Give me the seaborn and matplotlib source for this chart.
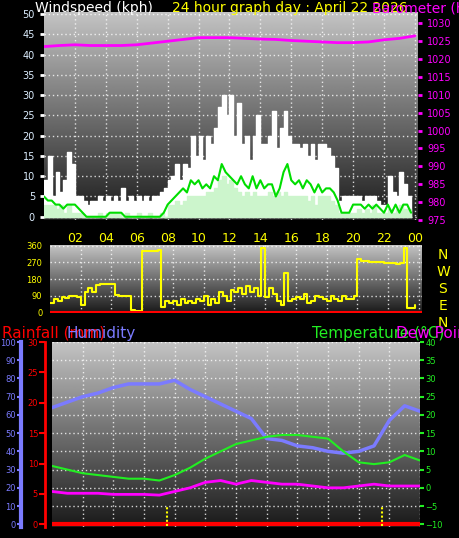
import numpy as np
import pandas as pd
import seaborn as sns
import matplotlib.pyplot as plt

# quarter-hour wind data (kph)
wind_gust = [9, 15, 5, 11, 6, 9, 16, 13, 5, 5, 4, 3, 4, 4, 5, 4,
             5, 4, 5, 4, 7, 4, 5, 4, 5, 4, 5, 4, 5, 5, 6, 7,
             9, 10, 13, 9, 13, 12, 20, 15, 20, 14, 20, 18, 22, 27, 30, 25,
             30, 20, 28, 18, 20, 14, 20, 25, 18, 18, 20, 26, 17, 22, 26, 20,
             18, 18, 17, 18, 15, 18, 14, 18, 18, 17, 15, 12, 4, 5, 5, 5,
             5, 5, 4, 5, 5, 5, 4, 3, 3, 10, 6, 5, 11, 8, 5, 5]
wind_speed = [3, 3, 3, 2, 3, 1, 3, 1, 1, 1, 0, 0, 0, 0, 1, 0,
              1, 1, 1, 1, 0, 1, 0, 0, 1, 0, 0, 1, 0, 0, 1, 0,
              3, 3, 4, 3, 4, 5, 5, 5, 5, 5, 6, 6, 7, 9, 10, 8,
              9, 7, 6, 5, 6, 5, 6, 5, 5, 5, 6, 5, 6, 5, 6, 5,
              5, 5, 5, 5, 4, 5, 3, 5, 5, 5, 4, 3, 1, 1, 1, 1,
              1, 2, 1, 2, 1, 3, 1, 1, 1, 2, 1, 2, 3, 2, 2, 1]
wind_avg = [5, 4, 4, 3, 3, 2, 3, 3, 3, 2, 1, 0, 0, 0, 0, 0,
            0, 1, 1, 1, 1, 0, 0, 0, 0, 0, 0, 0, 0, 0, 0, 1,
            3, 4, 5, 6, 7, 6, 9, 8, 9, 7, 8, 7, 10, 9, 13, 11,
            10, 9, 8, 10, 8, 7, 10, 7, 9, 7, 8, 8, 5, 7, 11, 13,
            9, 8, 9, 7, 9, 8, 6, 8, 6, 7, 7, 6, 4, 1, 1, 1,
            3, 3, 3, 2, 3, 2, 3, 2, 1, 3, 1, 3, 1, 3, 3, 1]
wind_dir = [50, 70, 60, 80, 75, 85, 90, 80, 40, 110, 130, 110, 150, 155, 155, 155,
            155, 95, 90, 90, 85, 10, 5, 5, 330, 330, 330, 330, 340, 30, 60, 50,
            60, 40, 70, 50, 60, 50, 70, 60, 90, 40, 70, 50, 110, 90, 60, 120,
            110, 130, 100, 140, 110, 130, 90, 350, 80, 130, 100, 60, 40, 210, 60, 70,
            80, 70, 100, 50, 60, 90, 80, 70, 60, 90, 70, 60, 90, 70, 70, 90,
            290, 280, 280, 275, 275, 270, 270, 265, 265, 265, 260, 265, 350, 20, 20, 40]

# hourly data
pressure = [1023.5, 1023.8, 1024.0, 1023.8, 1023.8, 1023.8, 1024.0, 1024.5, 1025.0,
            1025.5, 1026.0, 1026.0, 1026.0, 1025.8, 1025.6, 1025.5, 1025.2, 1025.0,
            1024.8, 1024.6, 1024.6, 1024.8, 1025.4, 1025.8, 1026.5]
humidity = [64, 67, 70, 72, 75, 77, 77, 77, 79, 74, 70, 66, 62, 58, 47, 46, 43, 42,
            40, 39, 40, 43, 57, 65, 62]
temperature = [6, 5, 4, 3.5, 3, 2.5, 2.5, 2, 3.5, 5.5, 8, 10, 12, 13, 14, 14.5, 14.5,
               14, 13.5, 10, 7, 6.5, 7, 9, 7.5]
dew_point = [-1, -1.5, -1.5, -1.5, -1.8, -1.8, -1.8, -2, -1, 0, 1.5, 2, 1, 2, 1.5, 1,
             1, 0.5, 0, 0, 0.5, 1, 0.5, 0.5, 0.5]
rainfall = [0] * 25

hour_labels = ["02", "04", "06", "08", "10", "12", "14", "16", "18", "20", "22", "00"]
compass = ["N", "W", "S", "E", "N"]

tq = np.arange(96) / 4
th = np.arange(25)

W, H = 460, 538
fig = plt.figure(figsize=(W / 100, H / 100), dpi=100, facecolor="black")
sns.set_style("dark")
plt.rcParams["font.family"] = ["DejaVu Sans"]


def px_axes(x0, y0, x1, y1):
    return fig.add_axes([x0 / W, 1 - y1 / H, (x1 - x0) / W, (y1 - y0) / H])


def style(ax, ymin, ymax):
    grad = np.linspace(1, 0, 256).reshape(-1, 1)
    ax.imshow(grad, cmap="gray", vmin=-0.15, vmax=1.35, aspect="auto",
              extent=[0, 1, 0, 1], transform=ax.transAxes, zorder=0)
    ax.set_facecolor("black")
    for s in ax.spines.values():
        s.set_visible(False)
    ax.grid(True, color="white", linestyle=(0, (1, 2)), linewidth=1, alpha=0.8)
    ax.set_axisbelow(True)


# ---- wind panel ----
ax1 = px_axes(44, 12, 418, 220)
style(ax1, 0, 50)
ax1.fill_between(tq, wind_gust, step="post", color="white", zorder=2)
ax1.fill_between(tq, wind_speed, step="post", color="#ccf5cc", zorder=3)
sns.lineplot(x=tq, y=wind_avg, ax=ax1, color="#00dd00", linewidth=1.5, zorder=4)
ax1.set_xlim(0, 24.2)
ax1.set_ylim(-0.8, 50.5)
ax1.set_yticks(range(0, 51, 5))
ax1.set_xticks(range(2, 25, 2))
ax1.set_xticklabels(hour_labels)
ax1.tick_params(axis="y", colors="white", labelcolor="#ddeeff", labelsize=7, length=3, width=2)
ax1.tick_params(axis="x", colors="white", labelcolor="yellow", labelsize=9, length=3, pad=6)
ax1p = ax1.twinx()
sns.lineplot(x=th, y=pressure, ax=ax1p, color="#ff00ff", linewidth=2)
ax1p.set_ylim(975, 975 + 55 * 51.3 / 48.5)
ax1p.set_yticks(range(975, 1031, 5))
ax1p.tick_params(axis="y", colors="#ff00ff", labelsize=7, length=3, width=2)
for s in ax1p.spines.values():
    s.set_visible(False)
fig.text(35 / W, 1 - 12 / H, "Windspeed (kph)", color="white", fontsize=10)
fig.text(172 / W, 1 - 12 / H, "24 hour graph day : April 22 2026", color="yellow", fontsize=10)
fig.text(372 / W, 1 - 12 / H, "Barometer (hPa)", color="#ff00ff", fontsize=10)

# ---- wind direction panel ----
ax2 = px_axes(50, 245, 422, 313)
style(ax2, 0, 360)
sns.lineplot(x=tq, y=wind_dir, ax=ax2, color="yellow", linewidth=1.5, drawstyle="steps-post")
ax2.axhline(0, color="red", linewidth=1.5)
ax2.set_xlim(0, 24.2)
ax2.set_ylim(-5, 365)
ax2.set_yticks([0, 90, 180, 270, 360])
ax2.set_xticks(range(2, 25, 2))
ax2.set_xticklabels([])
ax2.tick_params(axis="y", colors="yellow", labelsize=6, length=2, width=1.5)
ax2.tick_params(axis="x", length=0)
for i, c in enumerate(compass):
    fig.text(443 / W, 1 - (255 + i * 17) / H, c, color="yellow", fontsize=10, ha="center", va="center")

# ---- humidity / temperature panel ----
ax3 = px_axes(52, 342, 420, 527)
style(ax3, 0, 100)
sns.lineplot(x=th, y=humidity, ax=ax3, color="#7b7bff", linewidth=2.5)
ax3.set_xlim(0, 24)
ax3.set_ylim(-1.5, 100)
ax3.set_yticks(range(0, 101, 10))
ax3.set_xticks(range(2, 25, 2))
ax3.set_xticklabels([])
ax3.tick_params(axis="x", length=0)
ax3.yaxis.set_ticks_position("left")
ax3.spines["left"].set_visible(True)
ax3.spines["left"].set_position(("outward", 22))
ax3.spines["left"].set_color("#7b7bff")
ax3.spines["left"].set_linewidth(3)
ax3.tick_params(axis="y", colors="#7b7bff", labelsize=6, length=3, width=1.5, pad=1)

ax3r = ax3.twinx()
ax3r.yaxis.set_ticks_position("left")
ax3r.yaxis.set_label_position("left")
sns.lineplot(x=th, y=rainfall, ax=ax3r, color="red", linewidth=3)
ax3r.set_ylim(-0.45, 30)
ax3r.set_yticks(range(0, 31, 5))
for s in ax3r.spines.values():
    s.set_visible(False)
ax3r.spines["left"].set_visible(True)
ax3r.spines["left"].set_position(("outward", 5))
ax3r.spines["left"].set_color("red")
ax3r.spines["left"].set_linewidth(2)
ax3r.tick_params(axis="y", colors="red", labelsize=6, length=4, width=1.5, pad=1)
ax3r.vlines([7.5, 21.5], -0.3, 3, color="yellow", linestyle=(0, (1, 1)), linewidth=1.5)

ax3t = ax3.twinx()
sns.lineplot(x=th, y=temperature, ax=ax3t, color="#22ee22", linewidth=1.5)
sns.lineplot(x=th, y=dew_point, ax=ax3t, color="#ff00ff", linewidth=2)
ax3t.set_ylim(-10.75, 40)
ax3t.set_yticks(range(-10, 41, 5))
for s in ax3t.spines.values():
    s.set_visible(False)
ax3t.tick_params(axis="y", colors="#22ee22", labelsize=6, length=3, width=1.5, pad=1)

fig.text(2 / W, 1 - 338 / H, "Rainfall (mm)", color="red", fontsize=11)
fig.text(66 / W, 1 - 338 / H, "Humidity", color="#7b7bff", fontsize=11)
fig.text(312 / W, 1 - 338 / H, "Temperature (°C)", color="#22ee22", fontsize=11)
fig.text(396 / W, 1 - 338 / H, "Dew Point", color="#ff00ff", fontsize=11)

fig.savefig("out.png", dpi=100, facecolor="black")
